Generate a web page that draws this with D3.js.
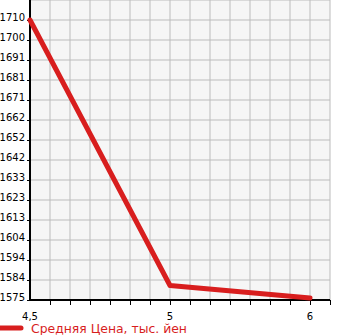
<!DOCTYPE html>
<html>
<head>
<meta charset="utf-8">
<script src="https://cdn.jsdelivr.net/npm/d3@7"></script>
<style>
  body { margin: 0; background: #fff; }
  svg { display: block; font-family: "DejaVu Sans", sans-serif; }
</style>
</head>
<body>
<div id="chart" style="width:345px;height:335px"></div>
<script>
// categories on x (engine size, shown with comma)
const categories = ["4.5", "5", "6"];
const xTickLabels = ["4,5", "5", "6"];
// average price, thousand yen
const prices = [1710, 1582, 1576];
const yTickLabels = ["1575", "1584", "1594", "1604", "1613", "1623", "1633", "1642",
  "1652", "1662", "1671", "1681", "1691", "1700", "1710"];
const yMin = 1575, yMax = 1710;
const legendLabel = "Средняя Цена, тыс. йен";

const margin = { top: 0, right: 15, bottom: 35, left: 30 },
  width = 345 - margin.left - margin.right,
  height = 335 - margin.top - margin.bottom;

const svg = d3.select("#chart").append("svg")
  .attr("width", 345)
  .attr("height", 335);

const g = svg.append("g")
  .attr("transform", "translate(" + margin.left + "," + margin.top + ")");

// x: index scale, 7 grid steps between neighbouring categories
const gridPerCat = 7;
const x = d3.scaleLinear().domain([0, 15 / gridPerCat]).range([0, width]);
const yStep = (yMax - yMin) / (yTickLabels.length - 1);
const y = d3.scaleLinear().domain([yMin, yMax + yStep]).range([height, 0]);

// background
g.append("rect")
  .attr("width", width)
  .attr("height", height)
  .attr("fill", "#f6f6f6");

// grid
const xGrid = d3.range(1, 16).map(i => i / gridPerCat);
g.selectAll(".vgrid").data(xGrid).enter().append("line")
  .attr("x1", d => x(d)).attr("x2", d => x(d))
  .attr("y1", 0).attr("y2", height)
  .attr("stroke", "#bcbcbc").attr("stroke-width", 1);

const yTicks = yTickLabels.map((t, i) => yMin + i * yStep);
const yGrid = yTicks.slice(1).concat([yMax + yStep]);
g.selectAll(".hgrid").data(yGrid).enter().append("line")
  .attr("x1", 0).attr("x2", width)
  .attr("y1", d => y(d)).attr("y2", d => y(d))
  .attr("stroke", "#bcbcbc").attr("stroke-width", 1);

// y axis
const yAxis = g.append("g")
  .call(d3.axisLeft(y).tickValues(yTicks).tickSize(3).tickFormat((d, i) => yTickLabels[i]));
yAxis.select(".domain").remove();
yAxis.selectAll(".tick line").attr("stroke", "#000");
yAxis.selectAll(".tick text")
  .attr("x", -5).attr("dy", "0.05em")
  .attr("font-size", 10).attr("font-family", "DejaVu Sans").attr("fill", "#000");

// x axis
const xAxis = g.append("g")
  .attr("transform", "translate(0," + height + ")")
  .call(d3.axisBottom(x).tickValues(xGrid).tickSize(5).tickFormat(""));
xAxis.select(".domain").remove();
xAxis.selectAll(".tick line").attr("stroke", "#000");

g.selectAll(".xlabel").data(categories).enter().append("text")
  .attr("x", (d, i) => x(i))
  .attr("y", height + 20)
  .attr("text-anchor", "middle")
  .attr("font-size", 10)
  .attr("fill", "#000")
  .text((d, i) => xTickLabels[i]);

// axis lines
g.append("line").attr("x1", 0).attr("x2", 0).attr("y1", 0).attr("y2", height + 1)
  .attr("stroke", "#000").attr("stroke-width", 2);
g.append("line").attr("x1", 0).attr("x2", width).attr("y1", height).attr("y2", height)
  .attr("stroke", "#000").attr("stroke-width", 2);

// price line
const line = d3.line()
  .x((d, i) => x(i))
  .y(d => y(d));

g.append("path")
  .datum(prices)
  .attr("fill", "none")
  .attr("stroke", "#d81e1e")
  .attr("stroke-width", 5)
  .attr("stroke-linecap", "round")
  .attr("stroke-linejoin", "round")
  .attr("d", line);

// legend
const legend = svg.append("g").attr("transform", "translate(0,328)");
legend.append("line")
  .attr("x1", 0).attr("x2", 21).attr("y1", 0).attr("y2", 0)
  .attr("stroke", "#d81e1e").attr("stroke-width", 5).attr("stroke-linecap", "round");
legend.append("text")
  .attr("x", 31).attr("y", 5)
  .attr("font-size", 12.4)
  .attr("fill", "#d81e1e")
  .text(legendLabel);
</script>
</body>
</html>
